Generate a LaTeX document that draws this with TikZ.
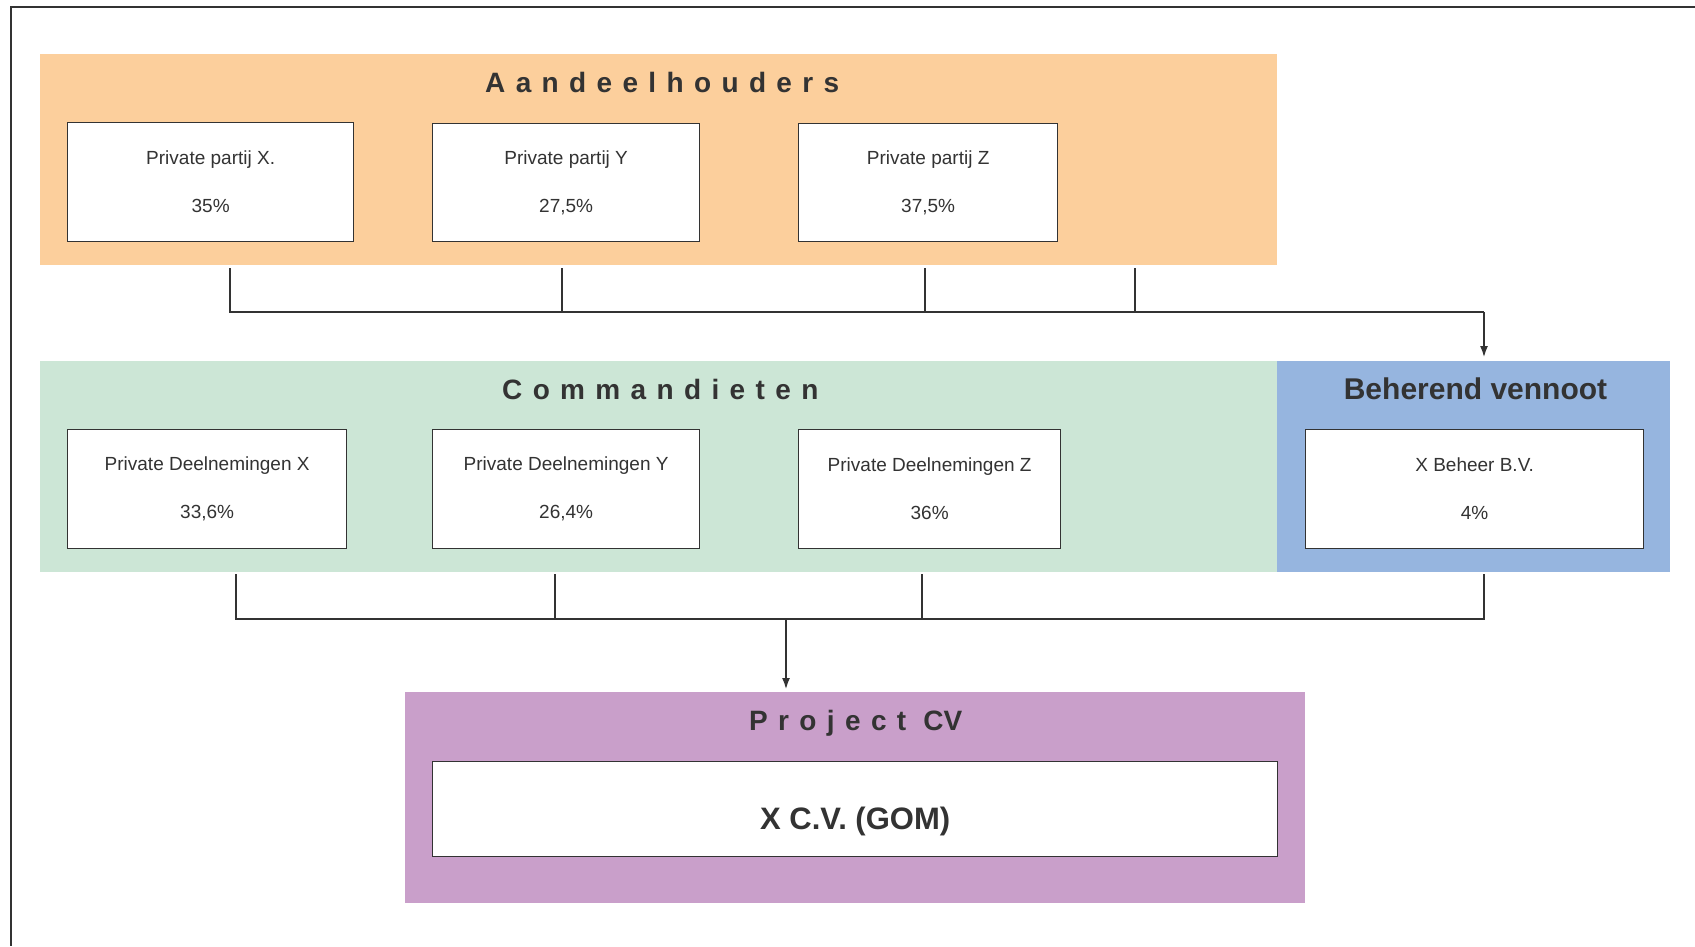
\documentclass[tikz,border=0pt]{standalone}
\usepackage{fontspec}
\setmainfont{Liberation Sans}
\newfontfamily\spacedfont[LetterSpace=37]{Liberation Sans}
\usetikzlibrary{arrows.meta}
\definecolor{ink}{HTML}{333333}
\definecolor{orangebg}{HTML}{FCCF9C}
\definecolor{greenbg}{HTML}{CCE6D6}
\definecolor{bluebg}{HTML}{96B5DF}
\definecolor{purplebg}{HTML}{C99FCA}
\begin{document}
\begin{tikzpicture}[x=1pt,y=-1pt,
  panel/.style={rectangle, draw=none, inner sep=0pt, anchor=north west},
  box/.style={rectangle, draw=ink, line width=1.3pt, fill=white, anchor=north west,
    inner sep=0pt, align=center, text=ink, font=\fontsize{19}{48}\selectfont},
  heading/.style={inner sep=0pt, text=ink, font=\fontsize{28}{32}\selectfont\bfseries},
  spaced/.style={heading, anchor=base west, font=\fontsize{28}{32}\selectfont\spacedfont\bfseries},
  conn/.style={draw=ink, line width=2.4pt},
  tip/.style={-{Latex[length=12pt,width=8pt]}},
]
\useasboundingbox (0,0) rectangle (1695,946);

% outer frame
\draw[ink, line width=2pt] (1695,7) -- (11,7) -- (11,946);

% coloured panels
\node[panel, fill=orangebg, minimum width=1237pt, minimum height=211pt] (share) at (40,54) {};
\node[panel, fill=greenbg, minimum width=1237pt, minimum height=211pt] (comm) at (40,361) {};
\node[panel, fill=bluebg, minimum width=393pt, minimum height=211pt] (beh) at (1277,361) {};
\node[panel, fill=purplebg, minimum width=900pt, minimum height=211pt] (proj) at (405,692) {};

% panel headings
\node[spaced] (tshare) at (485,92) {Aandeelhouders};
\node[spaced] (tcomm) at (502,399) {Commandieten};
\node[heading, anchor=base, font=\fontsize{30}{34}\selectfont\bfseries] (tbeh) at (1475.5,399) {Beherend vennoot};
\node[spaced] (tproj) at (749,730) {Project\hspace{17pt}{\fontspec{Liberation Sans}\bfseries CV}};

% shareholders
\node[box, minimum width=286pt, minimum height=119pt] (px) at (67,122) {Private partij X.\\35\%};
\node[box, minimum width=267pt, minimum height=118pt] (py) at (432,123) {Private partij Y\\27,5\%};
\node[box, minimum width=259pt, minimum height=118pt] (pz) at (798,123) {Private partij Z\\37,5\%};

% limited partners and general partner
\node[box, minimum width=279pt, minimum height=119pt] (dx) at (67,429) {Private Deelnemingen X\\33,6\%};
\node[box, minimum width=267pt, minimum height=119pt] (dy) at (432,429) {Private Deelnemingen Y\\26,4\%};
\node[box, minimum width=262pt, minimum height=119pt] (dz) at (798,429) {Private Deelnemingen Z\\36\%};
\node[box, minimum width=338pt, minimum height=119pt] (xb) at (1305,429) {X Beheer B.V.\\4\%};

% project company
\node[box, minimum width=845pt, minimum height=95pt, text height=41pt, text depth=0pt,
  font=\fontsize{31}{35}\selectfont\bfseries] (xcv) at (432,761) {X C.V. (GOM)};

% upper connectors
\coordinate (u1) at (230,268);
\coordinate (u2) at (562,268);
\coordinate (u3) at (925,268);
\coordinate (u4) at (1135,268);
\coordinate (uh) at (1484,312);
\draw[conn] (u1) |- (uh);
\draw[conn] (u2) -- (u2 |- uh);
\draw[conn] (u3) -- (u3 |- uh);
\draw[conn] (u4) -- (u4 |- uh);
\draw[conn, tip, shorten >=3pt] (uh) -- (uh |- beh.north);

% lower connectors
\coordinate (l1) at (236,574);
\coordinate (l2) at (555,574);
\coordinate (l3) at (922,574);
\coordinate (l4) at (1484,574);
\coordinate (lh) at (786,619);
\draw[conn] (l1) |- (lh) -| (l4);
\draw[conn] (l2) -- (l2 |- lh);
\draw[conn] (l3) -- (l3 |- lh);
\draw[conn, tip, shorten >=2pt] (lh) -- (lh |- proj.north);
\end{tikzpicture}
\end{document}
